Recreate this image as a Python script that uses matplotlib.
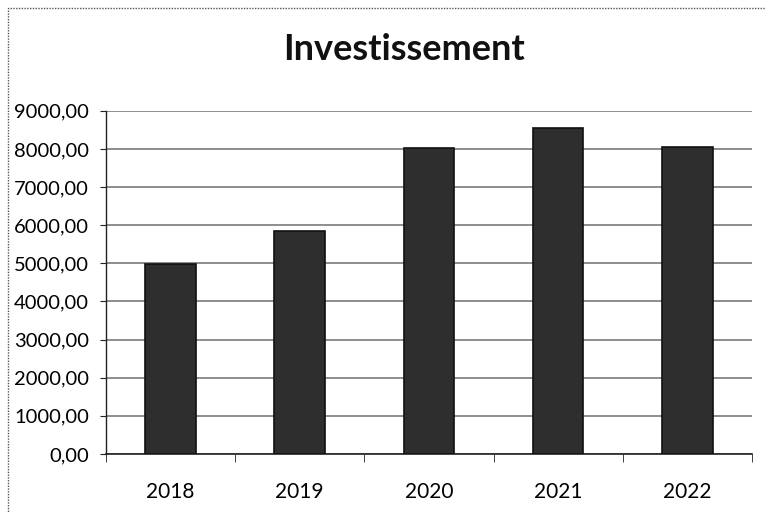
import matplotlib.pyplot as plt
from matplotlib.patches import Rectangle
from matplotlib.ticker import FuncFormatter, MultipleLocator

# ---- data ----
years = ['2018', '2019', '2020', '2021', '2022']
invest = [4980, 5860, 8020, 8560, 8040]

plt.rcParams['font.family'] = ['Lato', 'DejaVu Sans']

fig = plt.figure(figsize=(7.66, 5.13), dpi=100)
ax = fig.add_axes([0.138, 0.115, 0.844, 0.669])

# chart frame (scanned Excel border)
fig.patches.append(Rectangle((0.011, -0.01), 1.0, 0.995, transform=fig.transFigure,
                             fill=False, edgecolor='#555555', lw=1.0, ls=(0, (1, 1))))

x = list(range(len(years)))
ax.bar(x, invest, width=0.39, color='#2e2e2e', edgecolor='#111111', lw=1.2, zorder=3)

ax.set_xlim(-0.5, len(years) - 0.5)
ax.set_ylim(0, 9000)
ax.yaxis.set_major_locator(MultipleLocator(1000))
ax.yaxis.set_major_formatter(FuncFormatter(lambda v, p: f'{v:.2f}'.replace('.', ',')))
ax.grid(axis='y', color='#7a7a7a', lw=1.2, zorder=0)

ax.set_xticks(x)
ax.set_xticklabels(years)
ax.set_xticks([i - 0.5 for i in range(len(years) + 1)], minor=True)
ax.tick_params(axis='x', which='major', length=0, pad=20, labelsize=15)
ax.tick_params(axis='x', which='minor', length=6, direction='out', color='#222222')
ax.tick_params(axis='y', length=4, direction='out', labelsize=14.5, pad=8, color='#222222')

for s in ['top', 'right']:
    ax.spines[s].set_visible(False)
ax.spines['left'].set_color('#222222')
ax.spines['bottom'].set_color('#222222')
ax.spines['left'].set_linewidth(1.0)
ax.spines['bottom'].set_linewidth(1.2)

fig.text(0.527, 0.903, 'Investissement', ha='center', va='center',
         fontsize=26, fontweight='bold', color='#111111')

fig.savefig('out.png', dpi=100)
